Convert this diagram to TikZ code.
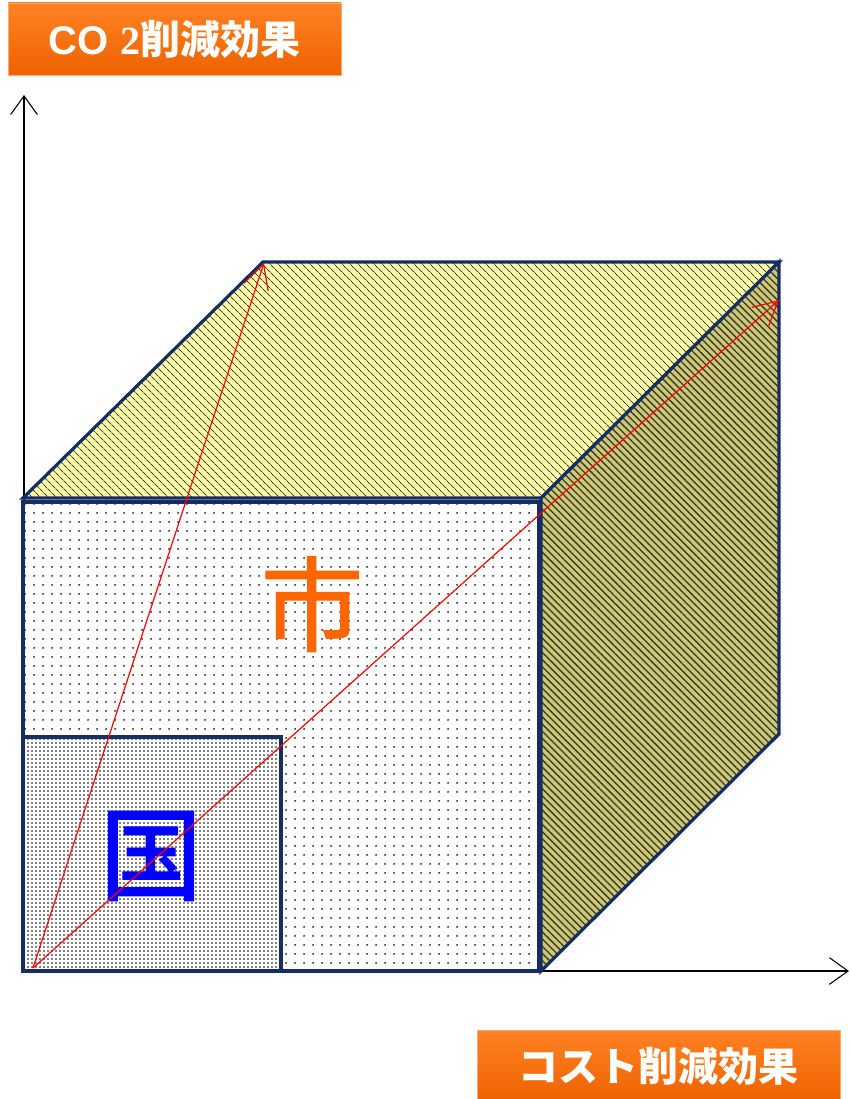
\documentclass[tikz,border=0pt]{standalone}
\usepackage{fontspec}
\usetikzlibrary{arrows.meta,patterns.meta,shadings}
\newfontfamily\cjk{Noto Sans CJK JP}
\newfontfamily\cjkfa[FakeBold=1.2]{Noto Sans CJK JP}
\newfontfamily\cjkfb[FakeBold=2.2]{Noto Sans CJK JP}
\newfontfamily\lsans{Liberation Sans}
\newfontfamily\lserif{Liberation Serif}
\definecolor{navy}{RGB}{22,45,100}
\definecolor{topyellow}{RGB}{255,255,170}
\definecolor{sideolive}{RGB}{205,200,115}
\definecolor{stripe}{RGB}{55,55,45}
\definecolor{boxtop}{RGB}{255,130,35}
\definecolor{boxbot}{RGB}{238,98,0}
\definecolor{boxedge}{RGB}{250,170,110}
\definecolor{shicol}{RGB}{255,102,0}
\definecolor{kunicol}{RGB}{0,0,255}
\tikzset{
  face/.style={draw=navy, line width=2.4pt, line join=miter},
  topface/.style={face, preaction={fill=topyellow}, pattern={Lines[angle=-45,distance=4pt,line width=0.7pt]}, pattern color=stripe},
  sideface/.style={face, preaction={fill=sideolive}, pattern={Lines[angle=-45,distance=3.8pt,line width=1pt]}, pattern color=stripe},
  frontface/.style={face, preaction={fill=white}, pattern={Dots[distance=6.4pt,radius=0.75pt]}, pattern color=black},
  kuniface/.style={face, preaction={fill=white}, pattern={Dots[distance=3pt,radius=0.72pt]}, pattern color=black},
  axisline/.style={draw=black, line width=0.8pt, -{Straight Barb[length=14pt,width=20pt,line width=0.8pt]}},
  redarrow/.style={draw=red, line width=0.9pt, -{Straight Barb[length=18pt,width=19pt,line width=0.9pt]}},
  lbl/.style={draw=boxedge, line width=0.6pt, top color=boxtop, bottom color=boxbot, text=white,
    font=\cjk\bfseries\fontsize{30pt}{30pt}\selectfont, inner sep=0pt},
  bigshi/.style={font=\cjkfa\fontsize{77pt}{77pt}\selectfont, inner sep=0pt},
  bigkuni/.style={font=\cjkfb\fontsize{76pt}{76pt}\selectfont, inner sep=0pt}
}
\begin{document}
\begin{tikzpicture}[x=0.75pt,y=-0.75pt]
\useasboundingbox (0,0) rectangle (850,1099);
\clip (0,0) rectangle (850,1099);
% coordinates
\coordinate (O) at (24,971);
\coordinate (ytip) at (24,95);
\coordinate (xtip) at (849,971);
\coordinate (rs) at (33,968);
\coordinate (r1) at (264,263);
\coordinate (r2) at (779,300);
% axes
\draw[axisline] (O) -- (ytip);
\draw[axisline] (O) -- (xtip);
% cube faces
\path[topface] (23,498) -- (263,262) -- (779,262) -- (541,498) -- cycle;
\path[sideface] (541,498) -- (779,262) -- (779,734) -- (541,971) -- cycle;
\path[frontface] (23,502) rectangle (539,971);
\path[kuniface] (23,737) rectangle (281,971);
% characters
\node[bigshi, text=shicol] (shi) at (312,604) {市};
\node[bigkuni, text=kunicol] (kuni) at (151,856) {国};
% red arrows
\draw[redarrow] (rs) -- (r1);
\draw[redarrow] (rs) -- (r2);
% labels
\node[lbl, minimum width=249.75pt, minimum height=54pt] (co2) at (174.5,39) {{\lsans\bfseries CO }{\lserif\bfseries 2}削減効果};
\node[lbl, minimum width=272.25pt, minimum height=54pt] (cost) at (658.5,1066) {コスト削減効果};
\end{tikzpicture}
\end{document}
